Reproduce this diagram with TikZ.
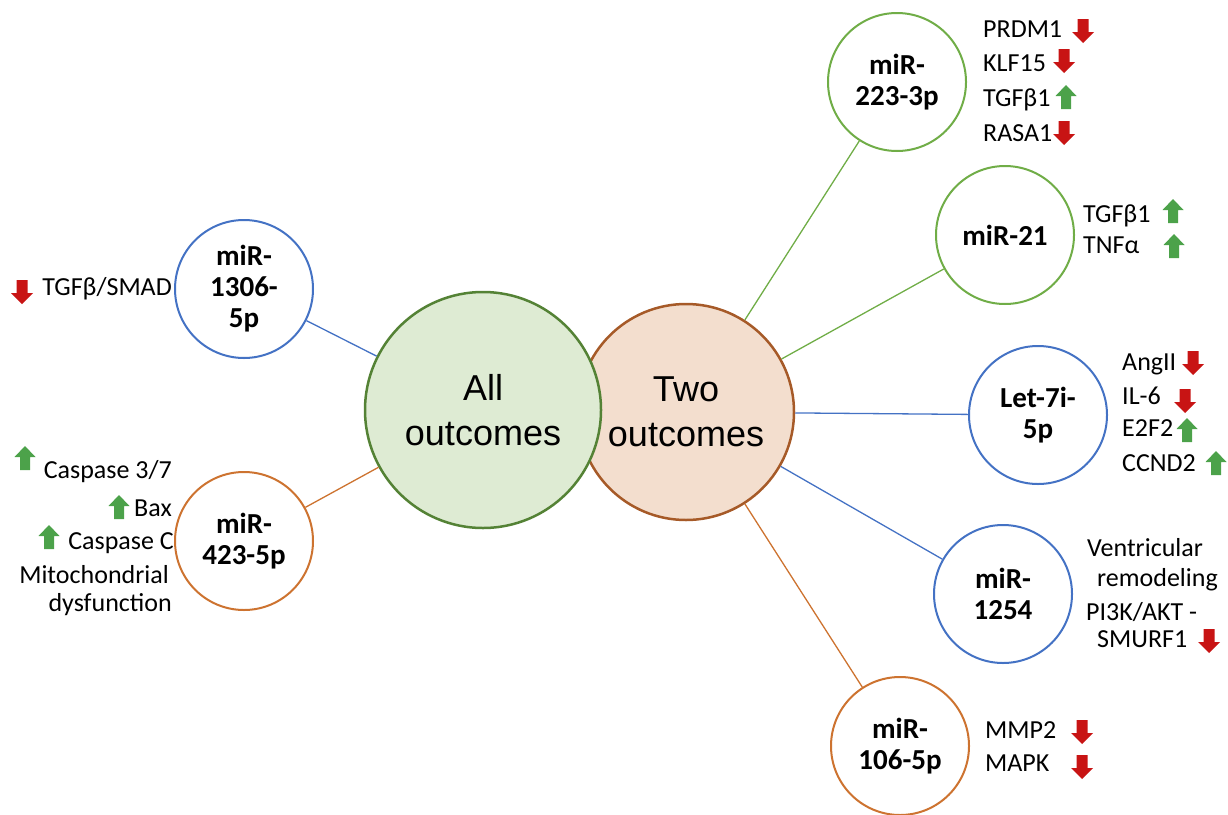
\documentclass[tikz,border=0pt]{standalone}
\usepackage{fontspec}
\setmainfont{Carlito}
\newfontfamily\arialf{Liberation Sans}
\definecolor{cgreen}{HTML}{70AD47}
\definecolor{cblue}{HTML}{4472C4}
\definecolor{corange}{HTML}{CD7330}
\definecolor{bgfill}{HTML}{DEEBD3}
\definecolor{bgdraw}{HTML}{548235}
\definecolor{bpfill}{HTML}{F3DECE}
\definecolor{bpdraw}{HTML}{A65A28}
\definecolor{arrred}{HTML}{C81414}
\definecolor{arrgreen}{HTML}{4CA24A}
\tikzset{
  mir/.style={circle, draw, line width=2pt, fill=white, minimum size=138pt, inner sep=0pt, align=center, font=\fontsize{29}{31}\selectfont\bfseries},
  big/.style={circle, line width=2.5pt, inner sep=0pt, align=center, font=\fontsize{36}{45}\selectfont\arialf},
  lbl/.style={anchor=base west, inner sep=0pt, font=\fontsize{26}{30}\selectfont},
  lblr/.style={anchor=base east, inner sep=0pt, font=\fontsize{26}{30}\selectfont},
  conn/.style={line width=1.3pt},
  dnarr/.pic={\fill[arrred] (-5.5,-12) -- (5.5,-12) -- (5.5,1) -- (11,1) -- (0,12) -- (-11,1) -- (-5.5,1) -- cycle;},
  uparr/.pic={\fill[arrgreen] (-5,12) -- (5,12) -- (5,-1) -- (10.5,-1) -- (0,-12) -- (-10.5,-1) -- (-5,-1) -- cycle;}
}
\begin{document}
\begin{tikzpicture}[x=1pt,y=-1pt]
\useasboundingbox (0,0) rectangle (1228,814);
% labels
\node[lbl] (t1) at (983,37.5) {PRDM1};
\node[lbl] (t2) at (983,71.5) {KLF15};
\node[lbl] (t3) at (983,106.5) {TGFβ1};
\node[lbl] (t4) at (983,141.5) {RASA1};
\pic at (1083,31) {dnarr};
\pic at (1064,61) {dnarr};
\pic at (1066,97) {uparr};
\pic at (1064,133) {dnarr};
\node[lbl] (u1) at (1083,222) {TGFβ1};
\node[lbl] (u2) at (1083,253) {TNFα};
\pic at (1173,211) {uparr};
\pic at (1174,246) {uparr};
\node[lbl] (v1) at (1122,370.5) {AngII};
\node[lbl] (v2) at (1122,404.5) {IL-6};
\node[lbl] (v3) at (1122,436.5) {E2F2};
\node[lbl] (v4) at (1122,471.5) {CCND2};
\pic at (1193,363) {dnarr};
\pic at (1185,401) {dnarr};
\pic at (1187,430) {uparr};
\pic at (1216,463) {uparr};
\node[lbl] (w1) at (1087,556.5) {Ventricular};
\node[lbl] (w2) at (1097,586.5) {remodeling};
\node[lbl] (w3) at (1086,620.5) {PI3K/AKT -};
\node[lbl] (w4) at (1097,647.5) {SMURF1};
\pic at (1209,641) {dnarr};
\node[lbl] (x1) at (985,738.5) {MMP2};
\node[lbl] (x2) at (985,771.5) {MAPK};
\pic at (1082,732) {dnarr};
\pic at (1082,767) {dnarr};
\node[lblr] (y1) at (172,295.5) {TGFβ/SMAD};
\pic at (22,292) {dnarr};
\node[lblr] (z1) at (172,478.5) {Caspase 3/7};
\node[lblr] (z2) at (172,516.5) {Bax};
\node[lblr] (z3) at (174,549.5) {Caspase C};
\node[lblr] (z4) at (169,583.5) {Mitochondrial};
\node[lblr] (z5) at (172,611.5) {dysfunction};
\pic at (25,458) {uparr};
\pic at (119,507) {uparr};
\pic at (49,537) {uparr};
% big circles
\node[big, draw=bpdraw, fill=bpfill, minimum size=216pt] (two) at (686,412) {Two\\outcomes};
\node[big, draw=bgdraw, fill=bgfill, minimum size=236pt] (all) at (483,410) {All\\outcomes};
% small circles
\node[mir, draw=cgreen] (m223) at (897,82) {miR-\\223-3p};
\node[mir, draw=cgreen] (m21) at (1005,235) {miR-21};
\node[mir, draw=cblue] (let7) at (1038,415) {Let-7i-\\5p};
\node[mir, draw=cblue] (m1254) at (1003,594) {miR-\\1254};
\node[mir, draw=corange] (m106) at (900,746) {miR-\\106-5p};
\node[mir, draw=cblue] (m1306) at (244,289) {miR-\\1306-\\5p};
\node[mir, draw=corange] (m423) at (244,541) {miR-\\423-5p};
% connectors
\draw[conn, cgreen] (m223) -- (two);
\draw[conn, cgreen] (m21) -- (two);
\draw[conn, cblue] (let7) -- (two);
\draw[conn, cblue] (m1254) -- (two);
\draw[conn, corange] (m106) -- (two);
\draw[conn, cblue] (m1306) -- (all);
\draw[conn, corange] (m423) -- (all);
\end{tikzpicture}
\end{document}
